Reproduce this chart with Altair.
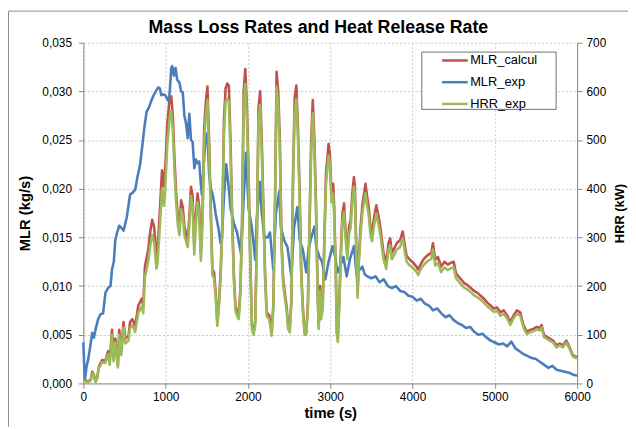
import altair as alt
import pandas as pd

# ---------------- data ----------------
series_names = ["MLR_calcul", "MLR_exp", "HRR_exp"]
series_colors = ["#C0504D", "#4A7EBB", "#9BBB59"]

# MLR_calcul (kg/s) and HRR_exp (kW) share the same time stamps
t_calc = [
    0, 30, 60, 90, 108, 130, 148, 168, 188, 228,
    268, 300, 320, 348, 368, 388, 420, 436, 460, 488,
    510, 548, 568, 596, 630, 668, 708, 728, 748, 788,
    810, 836, 860, 888, 900, 928, 956, 980, 996, 1020,
    1048, 1068, 1088, 1108, 1128, 1148, 1168, 1188, 1208, 1228,
    1248, 1268, 1288, 1308, 1328, 1348, 1368, 1388, 1408, 1428,
    1448, 1468, 1488, 1508, 1528, 1548, 1568, 1588, 1608, 1628,
    1648, 1668, 1688, 1708, 1728, 1748, 1768, 1788, 1808, 1828,
    1848, 1868, 1888, 1908, 1928, 1948, 1968, 1988, 2008, 2028,
    2048, 2068, 2088, 2108, 2128, 2148, 2168, 2188, 2208, 2228,
    2258, 2288, 2308, 2328, 2348, 2368, 2388, 2408, 2428, 2448,
    2468, 2488, 2508, 2528, 2548, 2568, 2588, 2608, 2628, 2648,
    2668, 2688, 2708, 2728, 2748, 2768, 2788, 2808, 2828, 2848,
    2860, 2876, 2888, 2908, 2928, 2948, 2980, 2996, 3016, 3036,
    3048, 3068, 3080, 3092, 3108, 3128, 3148, 3168, 3188, 3208,
    3228, 3248, 3268, 3288, 3300, 3316, 3332, 3348, 3368, 3390,
    3428, 3448, 3468, 3488, 3508, 3528, 3560, 3588, 3608, 3628,
    3648, 3680, 3708, 3728, 3748, 3768, 3808, 3848, 3880, 3908,
    3928, 3968, 4008, 4048, 4068, 4108, 4148, 4188, 4228, 4248,
    4276, 4308, 4348, 4388, 4428, 4468, 4500, 4528, 4588, 4628,
    4668, 4708, 4748, 4788, 4828, 4868, 4908, 4948, 4988, 5028,
    5068, 5108, 5148, 5188, 5228, 5268, 5308, 5348, 5388, 5428,
    5468, 5508, 5548, 5568, 5596, 5628, 5668, 5708, 5748, 5788,
    5828, 5868, 5908, 5948, 5988, 6000,
]
mlr_calcul = [
    .0004, .0003, .0002, .0004, .0012, .0008, .0002, .0006, .0017, .0024,
    .0023, .0033, .0022, .0055, .0026, .0046, .0019, .0055, .0033, .0063,
    .0046, .0049, .0063, .0066, .0059, .0080, .0087, .0080, .0120, .0137,
    .0154, .0168, .0161, .0131, .0134, .0175, .0219, .0202, .0222, .0266,
    .0293, .0295, .0273, .0229, .0195, .0171, .0161, .0188, .0181, .0161,
    .0154, .0148, .0171, .0202, .0192, .0141, .0174, .0195, .0181, .0134,
    .0174, .0262, .0289, .0305, .0249, .0181, .0117, .0114, .0093, .0063,
    .0083, .0114, .0164, .0269, .0303, .0308, .0306, .0249, .0174, .0114,
    .0080, .0073, .0070, .0097, .0164, .0300, .0323, .0283, .0215, .0131,
    .0060, .0053, .0063, .0147, .0282, .0300, .0249, .0181, .0114, .0073,
    .0070, .0053, .0080, .0181, .0320, .0300, .0249, .0147, .0107, .0093,
    .0080, .0060, .0056, .0087, .0215, .0293, .0306, .0262, .0198, .0114,
    .0077, .0053, .0053, .0080, .0164, .0249, .0291, .0249, .0181, .0090,
    .0060, .0100, .0070, .0080, .0147, .0215, .0246, .0235, .0195, .0205,
    .0181, .0114, .0053, .0046, .0080, .0134, .0174, .0185, .0154, .0134,
    .0161, .0168, .0195, .0212, .0202, .0141, .0093, .0130, .0160, .0183,
    .0205, .0192, .0181, .0161, .0154, .0168, .0183, .0171, .0161, .0147,
    .0134, .0124, .0144, .0149, .0134, .0137, .0144, .0147, .0156, .0141,
    .0131, .0127, .0124, .0120, .0117, .0124, .0129, .0132, .0134, .0144,
    .0127, .0130, .0120, .0125, .0122, .0124, .0125, .0113, .0107, .0103,
    .0101, .0098, .0095, .0093, .0090, .0087, .0083, .0080, .0077, .0078,
    .0073, .0075, .0070, .0063, .0070, .0075, .0073, .0060, .0053, .0055,
    .0056, .0058, .0057, .0060, .0050, .0048, .0046, .0044, .0039, .0041,
    .0039, .0044, .0037, .0029, .0027, .0028,
]
hrr_exp = [
    6, 4, 3, 6, 21, 14, 3, 10, 31, 44,
    42, 60, 38, 100, 45, 84, 33, 100, 58, 115,
    82, 88, 114, 120, 106, 145, 158, 144, 218, 250,
    280, 305, 290, 236, 244, 318, 400, 365, 405, 490,
    545, 560, 520, 435, 370, 325, 305, 358, 344, 305,
    292, 280, 325, 385, 366, 265, 330, 372, 345, 252,
    330, 500, 550, 582, 475, 344, 222, 216, 176, 118,
    158, 216, 312, 512, 578, 585, 580, 474, 330, 216,
    150, 138, 132, 184, 312, 572, 615, 540, 410, 248,
    112, 100, 118, 280, 538, 572, 474, 344, 216, 138,
    132, 98, 152, 344, 610, 572, 474, 280, 202, 176,
    152, 112, 105, 164, 410, 558, 584, 500, 376, 216,
    146, 100, 100, 152, 312, 474, 555, 474, 344, 170,
    112, 190, 132, 152, 280, 410, 468, 448, 372, 390,
    344, 216, 100, 85, 152, 255, 332, 352, 294, 255,
    306, 320, 372, 404, 385, 268, 176, 248, 305, 349,
    391, 366, 345, 306, 292, 320, 349, 326, 306, 280,
    255, 235, 275, 284, 255, 261, 275, 280, 298, 269,
    250, 242, 237, 229, 223, 237, 246, 252, 256, 275,
    242, 248, 229, 238, 233, 237, 238, 216, 204, 197,
    193, 187, 181, 177, 172, 166, 158, 153, 147, 149,
    139, 143, 134, 120, 134, 143, 139, 115, 101, 105,
    107, 111, 109, 115, 95, 92, 88, 84, 74, 78,
    74, 84, 71, 55, 52, 53,
]

# MLR_exp (kg/s)
t_exp = [
    0, 10, 20, 40, 60, 80, 108, 128, 150, 180,
    208, 240, 268, 300, 330, 348, 370, 388, 410, 436,
    460, 490, 528, 568, 600, 630, 660, 690, 708, 740,
    768, 800, 828, 860, 908, 930, 948, 970, 996, 1036,
    1050, 1068, 1080, 1100, 1120, 1140, 1168, 1188, 1208, 1228,
    1248, 1268, 1288, 1308, 1328, 1348, 1368, 1388, 1408, 1428,
    1440, 1468, 1488, 1508, 1528, 1548, 1568, 1588, 1608, 1640,
    1668, 1680, 1708, 1736, 1768, 1788, 1828, 1868, 1916, 1948,
    1976, 2008, 2048, 2088, 2108, 2148, 2168, 2200, 2240, 2268,
    2308, 2340, 2380, 2400, 2440, 2480, 2528, 2560, 2600, 2630,
    2668, 2708, 2740, 2770, 2808, 2830, 2868, 2900, 2940, 2980,
    3028, 3060, 3088, 3120, 3160, 3200, 3240, 3288, 3320, 3350,
    3390, 3420, 3450, 3500, 3550, 3600, 3650, 3700, 3750, 3800,
    3850, 3900, 3950, 4000, 4050, 4100, 4150, 4200, 4250, 4300,
    4350, 4400, 4450, 4500, 4550, 4600, 4650, 4700, 4750, 4800,
    4850, 4900, 4950, 5000, 5050, 5100, 5150, 5200, 5250, 5300,
    5350, 5400, 5450, 5500, 5550, 5600, 5650, 5700, 5750, 5800,
    5850, 5900, 5950, 6000,
]
mlr_exp = [
    .0042, .0020, .0005, .0018, .0025, .0036, .0052, .0047, .0056, .0066,
    .0071, .0072, .0093, .0098, .0100, .0117, .0125, .0147, .0155, .0162,
    .0160, .0157, .0171, .0194, .0196, .0199, .0213, .0225, .0238, .0262,
    .0279, .0284, .0291, .0297, .0304, .0303, .0296, .0297, .0296, .0290,
    .0300, .0324, .0326, .0316, .0324, .0312, .0309, .0300, .0299, .0275,
    .0267, .0252, .0277, .0250, .0248, .0221, .0230, .0226, .0228, .0205,
    .0194, .0230, .0256, .0257, .0215, .0201, .0195, .0186, .0174, .0160,
    .0144, .0144, .0190, .0225, .0200, .0180, .0165, .0155, .0133, .0190,
    .0237, .0180, .0160, .0127, .0170, .0207, .0175, .0150, .0150, .0155,
    .0117, .0175, .0197, .0160, .0147, .0140, .0110, .0160, .0181, .0147,
    .0137, .0114, .0140, .0150, .0161, .0140, .0130, .0125, .0107, .0125,
    .0141, .0130, .0114, .0120, .0130, .0110, .0128, .0141, .0112, .0116,
    .0120, .0112, .0110, .0108, .0110, .0104, .0107, .0100, .0098, .0100,
    .0095, .0094, .0090, .0089, .0085, .0087, .0082, .0080, .0075, .0077,
    .0072, .0068, .0070, .0065, .0062, .0060, .0057, .0058, .0053, .0050,
    .0051, .0047, .0044, .0042, .0040, .0041, .0038, .0043, .0036, .0033,
    .0030, .0028, .0026, .0025, .0022, .0019, .0016, .0018, .0014, .0013,
    .0012, .0011, .0009, .0008,
]

x_ticks = [0, 1000, 2000, 3000, 4000, 5000, 6000]
mlr_ticks = [0.0, 0.005, 0.010, 0.015, 0.020, 0.025, 0.030, 0.035]
hrr_ticks = [0, 100, 200, 300, 400, 500, 600, 700]
chart_title = "Mass Loss Rates and Heat Release Rate"

assert len(t_calc) == len(mlr_calcul) == len(hrr_exp)
assert len(t_exp) == len(mlr_exp)

df_calc = pd.DataFrame({"time": t_calc, "mlr": mlr_calcul, "series": "MLR_calcul"})
df_exp = pd.DataFrame({"time": t_exp, "mlr": mlr_exp, "series": "MLR_exp"})
df_hrr = pd.DataFrame({"time": t_calc, "hrr": hrr_exp, "series": "HRR_exp"})

FONT = "Liberation Sans"
GRAY = "#868686"

x_enc = alt.X(
    "time:Q",
    scale=alt.Scale(domain=[0, 6000], nice=False),
    axis=alt.Axis(
        values=x_ticks, format="d", title="time (s)", grid=True,
        labelPadding=3, titlePadding=4, labelFlush=False,
    ),
)

y_left = alt.Y(
    "mlr:Q",
    scale=alt.Scale(domain=[0, 0.035], nice=False, zero=True),
    axis=alt.Axis(
        values=mlr_ticks, title="MLR (kg/s)", grid=True,
        labelExpr="replace(format(datum.value, '.3f'), '.', ',')",
        labelPadding=7, titlePadding=9,
    ),
)

y_right = alt.Y(
    "hrr:Q",
    scale=alt.Scale(domain=[0, 700], nice=False, zero=True),
    axis=alt.Axis(
        orient="right", values=hrr_ticks, title="HRR (kW)", grid=False,
        format="d", labelPadding=4,
        titleAngle=270, titleX=43, titleY=172.5, titleAlign="center",
        titleBaseline="middle", titleFontSize=13,
    ),
)

color_enc = alt.Color(
    "series:N",
    scale=alt.Scale(domain=series_names, range=series_colors),
    sort=series_names,
    legend=alt.Legend(
        title=None, orient="none", legendX=361.7, legendY=3.5,
        symbolType="stroke", symbolSize=676, symbolStrokeWidth=2.5,
        labelFontSize=13, labelFont=FONT, labelColor="black",
        labelOffset=1, rowPadding=-8, padding=0,
    ),
)

line_w = 2.6
red = alt.Chart(df_calc).mark_line(strokeWidth=line_w, strokeJoin="round").encode(x=x_enc, y=y_left, color=color_enc)
blue = alt.Chart(df_exp).mark_line(strokeWidth=line_w, strokeJoin="round").encode(x=x_enc, y=y_left, color=color_enc)
green = alt.Chart(df_hrr).mark_line(strokeWidth=line_w, strokeJoin="round").encode(x=x_enc, y=y_right, color=color_enc)

one = pd.DataFrame({"t": [chart_title]})

border = alt.Chart(one).mark_rect(
    fillOpacity=0, stroke="#8c8c8c", strokeWidth=1
).encode(x=alt.value(-75.8), x2=alt.value(900), y=alt.value(-32), y2=alt.value(900))

legend_box = alt.Chart(one).mark_rect(
    fill="white", stroke="#6e6e6e", strokeWidth=1
).encode(x=alt.value(342.7), x2=alt.value(478.7), y=alt.value(9.5), y2=alt.value(67.5))

title_mark = alt.Chart(one).mark_text(
    font=FONT, fontSize=18, fontWeight="bold", color="black",
    align="center", baseline="alphabetic",
).encode(x=alt.value(238), y=alt.value(-9.5), text="t:N")

chart = (
    alt.layer(border, legend_box, alt.layer(red, blue), green, title_mark)
    .resolve_scale(y="independent")
    .properties(
        width=500, height=345,
        autosize=alt.AutoSizeParams(type="none"),
        padding={"left": 76.3, "top": 32.5, "right": 51.5, "bottom": 41.5},
        background="white",
    )
    .configure_view(stroke=None)
    .configure_axis(
        labelFont=FONT, labelFontSize=12, labelColor="black",
        titleFont=FONT, titleFontSize=15, titleFontWeight="bold", titleColor="black",
        domainColor=GRAY, domainWidth=1, tickColor=GRAY, tickSize=5,
        gridColor="#c8c8c8", gridDash=[2, 2], gridWidth=1,
    )
)

chart.save("out.html", embed_options={"renderer": "svg", "actions": False})
